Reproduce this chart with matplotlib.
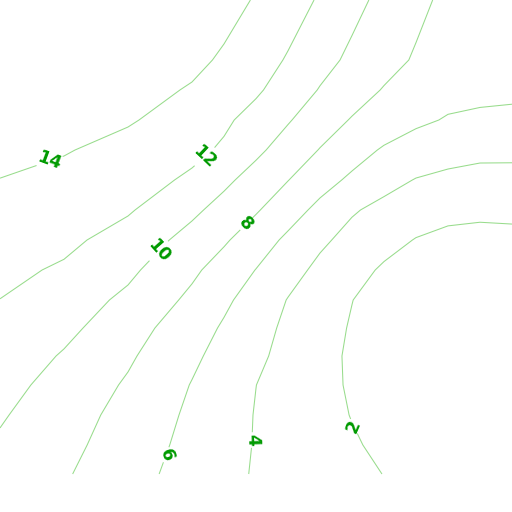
import numpy as np
import matplotlib
matplotlib.use("Agg")
import matplotlib.pyplot as plt

# grid nodes (pixel-like coordinates, y grows downward)
x_nodes = [0, 64, 128, 192, 224, 256, 288, 320, 352, 384, 416, 448, 480, 512]
y_nodes = [0, 60, 90, 120, 150, 180, 210, 240, 270, 300, 328, 356, 385, 415, 445, 474]

# field values, one list per row
row_0 = [15.8, 15.9, 15.9, 15.9, 14.85, 13.82, 12.83, 11.81, 10.58, 9.48, 8.49, 7.55, 7.4, 7.3]
row_60 = [15.5, 15.6, 15.5, 14.55, 13.69, 12.79, 11.85, 10.67, 9.6, 8.69, 7.8, 7.2, 7.1, 7.05]
row_90 = [15.3, 15.2, 14.86, 13.8, 13.03, 12.26, 11.15, 9.89, 8.88, 7.88, 6.94, 6.6, 6.5, 6.45]
row_120 = [15.0, 14.7, 14.22, 12.94, 12.3, 11.36, 10.15, 8.96, 7.87, 7.17, 6.35, 5.86, 5.64, 5.5]
row_150 = [14.46, 14.15, 13.28, 12.45, 11.75, 10.39, 9.16, 7.92, 6.84, 5.78, 5.14, 4.71, 4.46, 4.43]
row_180 = [13.97, 13.4, 12.8, 11.7, 10.4, 9.25, 8.04, 6.76, 5.64, 4.62, 3.92, 3.59, 3.4, 3.42]
row_210 = [13.47, 12.86, 12.2, 10.38, 9.33, 8.18, 6.85, 5.49, 4.18, 3.5, 2.93, 2.54, 2.4, 2.45]
row_240 = [12.98, 12.45, 11.2, 9.34, 8.24, 6.96, 5.63, 4.33, 3.43, 2.64, 1.92, 1.52, 1.42, 1.49]
row_270 = [12.48, 11.75, 10.4, 8.36, 7.18, 5.96, 4.68, 3.57, 2.66, 1.75, 1.25, 1.05, 0.95, 1.0]
row_300 = [11.98, 10.98, 9.6, 7.58, 6.36, 5.15, 3.93, 2.98, 2.03, 1.22, 0.95, 0.8, 0.75, 0.78]
row_328 = [11.55, 10.5, 8.82, 6.87, 5.78, 4.66, 3.64, 2.74, 1.85, 1.1, 0.82, 0.68, 0.62, 0.65]
row_356 = [11.2, 9.83, 8.27, 6.35, 5.36, 4.36, 3.45, 2.59, 1.73, 1.05, 0.75, 0.6, 0.55, 0.55]
row_385 = [10.68, 9.27, 7.78, 5.92, 4.96, 4.01, 3.27, 2.54, 1.79, 1.16, 0.8, 0.6, 0.52, 0.5]
row_415 = [10.19, 8.85, 7.37, 5.65, 4.77, 3.92, 3.26, 2.6, 1.94, 1.35, 0.95, 0.7, 0.55, 0.5]
row_445 = [9.75, 8.55, 7.03, 5.45, 4.66, 3.9, 3.33, 2.75, 2.18, 1.65, 1.2, 0.9, 0.7, 0.6]
row_474 = [9.35, 8.2, 6.72, 5.24, 4.51, 3.85, 3.38, 2.91, 2.44, 1.97, 1.5, 1.15, 0.9, 0.75]

levels = [2, 4, 6, 8, 10, 12, 14]
label_pos = [(352, 427), (251, 440), (167, 455), (247, 225),
             (160, 252), (205, 157), (50, 162)]

Z = np.array([row_0, row_60, row_90, row_120, row_150, row_180, row_210, row_240,
              row_270, row_300, row_328, row_356, row_385, row_415, row_445, row_474])
X, Y = np.meshgrid(x_nodes, y_nodes)

fig = plt.figure(figsize=(5.12, 5.12), dpi=100)
ax = fig.add_axes([0, 0, 1, 1])
cs = ax.contour(X, Y, Z, levels=levels, colors="#98dc8c", linewidths=0.75)
ax.clabel(cs, levels, inline=True, fmt="%d", fontsize=12.5,
          colors="#009a00", manual=label_pos, inline_spacing=3)
for t in cs.labelTexts:
    t.set_fontweight("bold")

ax.set_xlim(0, 512)
ax.set_ylim(512, 0)
ax.axis("off")
fig.savefig("out.png", dpi=100)
